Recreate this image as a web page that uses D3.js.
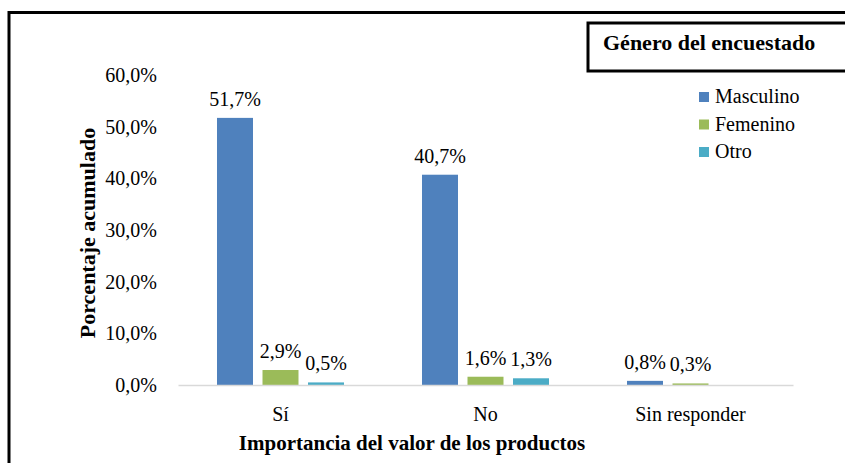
<!DOCTYPE html>
<html><head><meta charset="utf-8">
<script src="https://cdn.jsdelivr.net/npm/d3@7"></script>
<style>
body{margin:0;background:#fff;}
svg{display:block;font-family:"Liberation Serif","Times New Roman",serif;}
</style></head>
<body>
<svg id="chart" width="845" height="463"></svg>
<script>
const categories = ["Sí", "No", "Sin responder"];
const seriesNames = ["Masculino", "Femenino", "Otro"];
const masculino = [51.7, 40.7, 0.8];
const femenino = [2.9, 1.6, 0.3];
const otro = [0.5, 1.3, 0];
const yTicks = [0, 10, 20, 30, 40, 50, 60];
const colors = ["#4F81BD", "#9BBB59", "#4BACC6"];
const values = [masculino, femenino, otro];

const svg = d3.select("#chart");
const fmt = v => d3.format(".1f")(v).replace(".", ",") + "%";

// outer frame
svg.append("rect").attr("x", 9).attr("y", 12.5).attr("width", 900).attr("height", 600)
  .attr("fill", "none").attr("stroke", "#000").attr("stroke-width", 3);

const x0 = d3.scaleBand().domain(categories).range([178, 793]).paddingInner(0).paddingOuter(0);
const x1 = d3.scaleBand().domain(seriesNames).range([0, x0.bandwidth()]).paddingInner(0.209).paddingOuter(0.857);
const y = d3.scaleLinear().domain([0, 60]).range([385, 75]);

// y axis
const yAxis = svg.append("g").attr("transform", "translate(178,0)")
  .call(d3.axisLeft(y).tickValues(yTicks).tickSize(0).tickPadding(21).tickFormat(fmt));
yAxis.attr("font-family", null);
yAxis.select(".domain").remove();
yAxis.selectAll("text").attr("font-family", "Liberation Serif").attr("font-size", 20).attr("fill", "#000");

// bars
const data = [];
categories.forEach((c, i) => seriesNames.forEach((s, j) => data.push({c, s, v: values[j][i], color: colors[j]})));
svg.append("g").selectAll("rect").data(data).join("rect")
  .attr("x", d => x0(d.c) + x1(d.s))
  .attr("width", x1.bandwidth())
  .attr("y", d => y(d.v))
  .attr("height", d => y(0) - y(d.v))
  .attr("fill", d => d.color);

// labels
svg.append("g").selectAll("text").data(data.filter(d => d.v > 0)).join("text")
  .attr("x", d => x0(d.c) + x1(d.s) + x1.bandwidth() / 2)
  .attr("y", d => y(d.v) - 12)
  .attr("text-anchor", "middle").attr("font-size", 20).attr("fill", "#000")
  .text(d => fmt(d.v));

// x axis line
const xAxis = svg.append("g").attr("transform", "translate(0,385)")
  .call(d3.axisBottom(x0).tickSize(0).tickPadding(22));
xAxis.attr("font-family", null);
xAxis.select(".domain").attr("stroke", "#D9D9D9").attr("stroke-width", 1.5);
xAxis.selectAll("text").attr("font-family", "Liberation Serif").attr("font-size", 20).attr("fill", "#000");

// axis titles
svg.append("text").attr("x", 412).attr("y", 450).attr("text-anchor", "middle")
  .attr("font-weight", "bold").attr("font-size", 21).text("Importancia del valor de los productos");
svg.append("text").attr("transform", "translate(95,233) rotate(-90)").attr("text-anchor", "middle")
  .attr("font-weight", "bold").attr("font-size", 22).text("Porcentaje acumulado");

// legend title box
svg.append("rect").attr("x", 588).attr("y", 23).attr("width", 300).attr("height", 48)
  .attr("fill", "#fff").attr("stroke", "#000").attr("stroke-width", 3);
svg.append("text").attr("x", 603).attr("y", 50).attr("font-weight", "bold").attr("font-size", 22)
  .text("Género del encuestado");

// legend
const lg = svg.append("g").selectAll("g").data(seriesNames).join("g")
  .attr("transform", (d, i) => `translate(699,${97 + i * 27.5})`);
lg.append("rect").attr("x", 0).attr("y", -5).attr("width", 10).attr("height", 10).attr("fill", (d, i) => colors[i]);
lg.append("text").attr("x", 16).attr("y", 6).attr("font-size", 20).text(d => d);
</script>
</body></html>
